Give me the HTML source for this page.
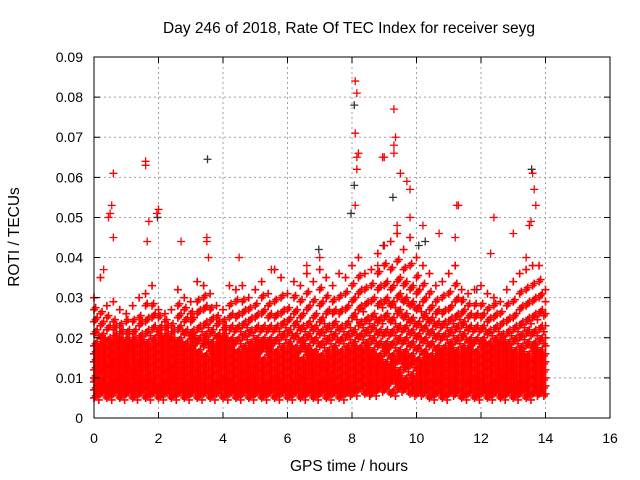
<!DOCTYPE html>
<html><head><meta charset="utf-8"><style>
html,body{margin:0;padding:0;background:#fff;}
svg{display:block;font-family:"Liberation Sans",sans-serif;}
</style></head><body>
<svg id="chart" width="640" height="480" viewBox="0 0 640 480" xmlns="http://www.w3.org/2000/svg">
<rect width="640" height="480" fill="#fff"/>
<text x="349" y="33" font-size="15.5" text-anchor="middle">Day 246 of 2018, Rate Of TEC Index for receiver seyg</text>
<text x="349" y="471" font-size="15.5" text-anchor="middle">GPS time / hours</text>
<text transform="translate(19,237) rotate(-90)" font-size="15.5" text-anchor="middle">ROTI / TECUs</text>
<g id="grid"></g><g id="marks"></g><g id="axes"></g>
</svg>
<script>
const xTicks=[0,2,4,6,8,10,12,14,16];
const yTicks=[0,0.01,0.02,0.03,0.04,0.05,0.06,0.07,0.08,0.09];
const yTickLabels=["0","0.01","0.02","0.03","0.04","0.05","0.06","0.07","0.08","0.09"];
const MILLI=0.001;
const bandHours=[0,0.2,0.4,0.6,0.8,1,1.2,1.4,1.6,1.8,2,2.2,2.4,2.6,2.8,3,3.2,3.4,3.6,3.8,4,4.2,4.4,4.6,4.8,5,5.2,5.4,5.6,5.8,6,6.2,6.4,6.6,6.8,7,7.2,7.4,7.6,7.8,8,8.2,8.4,8.6,8.8,9,9.2,9.4,9.6,9.8,10,10.2,10.4,10.6,10.8,11,11.2,11.4,11.6,11.8,12,12.2,12.4,12.6,12.8,13,13.2,13.4,13.6,13.8,14];
const bandRoti=[
[5,7,9,10,12,14,16,18,21,24,27,30],[6,7,9,11,12,14,16,18,20,23,26,35],[5,7,8,10,12,13,15,17,19,22,25,28],[6,8,9,11,13,14,16,18,20,22,24,29],
[5,7,9,10,12,14,15,17,19,21,23,27],[6,7,9,11,12,14,16,17,19,21,24,26],[5,7,8,10,11,13,15,17,19,21,24,28],[6,8,9,11,13,14,16,18,20,23,25,30],
[5,7,9,10,12,14,16,18,21,24,28,31],[6,7,9,11,13,15,17,19,22,25,28,33],[5,7,8,10,12,14,16,18,20,22,25,27],[6,8,9,11,12,14,16,18,20,22,24,26],
[5,7,9,10,12,13,15,17,19,21,23,27],[6,7,9,11,13,15,17,19,22,25,28,32],[5,7,8,10,12,14,16,18,21,24,27,30],[6,8,9,11,13,15,17,19,21,24,26,29],
[5,7,9,10,12,14,16,19,22,26,29,34],[6,7,9,11,13,15,18,20,23,27,30,33],[5,7,8,10,12,14,16,18,21,24,27,31],[6,8,9,11,13,14,16,18,20,23,25,28],
[5,7,9,10,12,14,16,18,20,22,24,27],[6,7,9,11,13,15,17,19,22,25,28,33],[5,7,8,10,12,14,16,19,22,25,29,32],[6,8,9,11,13,15,17,20,23,26,29,33],
[5,7,9,10,12,14,16,18,21,24,27,30],[6,7,9,11,13,15,17,19,22,25,28,32],[5,7,8,10,12,14,17,19,22,26,30,34],[6,8,9,11,13,15,17,19,22,25,28,31],
[5,7,9,10,12,14,16,19,22,25,29,37],[6,7,9,11,13,15,17,20,23,26,30,35],[5,7,8,10,12,14,16,18,21,24,27,31],[6,8,9,11,13,15,17,20,23,26,30,34],
[5,7,9,10,12,14,17,19,22,25,29,33],[6,7,9,11,13,15,17,20,23,27,31,36],[5,7,8,10,12,14,16,19,22,25,29,34],[6,8,9,11,13,15,18,21,24,28,32,37],
[5,7,9,10,12,14,16,19,22,26,30,35],[6,7,9,11,13,15,17,20,23,26,29,33],[5,7,8,10,12,14,16,19,22,26,30,36],[6,8,9,11,13,15,17,20,23,27,31,35],
[6,8,10,12,14,16,18,21,25,29,33,38],[7,9,11,13,15,17,20,23,27,31,35,40],[6,8,10,12,14,16,18,21,24,28,32,36],[6,8,10,12,14,16,19,22,25,29,33,37],
[7,9,11,13,15,18,21,24,28,32,36,41],[7,9,11,13,16,18,21,25,29,33,38,43],[6,9,11,13,15,18,21,24,28,32,37,44],[7,9,11,14,16,19,22,26,30,34,39,46],
[7,9,12,14,16,19,22,25,29,33,37,42],[6,8,10,13,15,18,21,24,28,32,38,45],[6,8,10,12,14,17,20,23,27,31,35,40],[6,8,10,12,14,16,19,22,25,29,33,38],
[5,7,9,11,13,15,18,21,24,27,31,36],[6,8,9,11,13,15,17,20,23,26,29,33],[5,7,9,11,13,15,17,20,23,26,30,34],[6,8,10,12,14,16,18,21,24,27,31,36],
[6,8,10,12,14,16,19,22,25,29,33,38],[5,7,9,11,13,15,17,20,23,26,29,32],[6,8,9,11,13,15,17,19,22,25,28,31],[5,7,9,10,12,14,16,19,22,25,28,32],
[6,7,9,11,13,15,17,19,22,25,28,33],[5,7,8,10,12,14,16,18,21,24,27,31],[6,8,9,11,13,15,17,19,22,25,28,30],[5,7,9,10,12,14,16,18,20,23,26,29],
[6,7,9,11,12,14,16,18,21,24,28,32],[5,7,8,10,12,14,16,19,22,25,29,34],[6,8,9,11,13,15,17,20,23,27,31,36],[5,7,9,11,13,15,18,21,24,28,32,37],
[6,8,10,12,14,16,18,21,25,29,33,38],[6,8,10,12,14,16,19,22,26,30,34,38],[6,8,10,12,14,16,18,20,23,26,29,32]];
const redOutHours=[0.6,0.55,0.5,0.45,0.6,0.3,1.6,1.6,1.65,1.7,2.0,1.95,2.7,3.5,3.5,3.55,4.5,5.5,8.1,8.15,8.1,8.15,8.2,8.15,8.1,9.0,8.95,9.3,9.35,9.3,9.3,9.5,9.7,9.8,9.8,9.4,10.2,10.7,11.3,11.25,11.2,12.4,12.3,13.0,13.6,13.65,13.7,13.55,13.5,13.4,7.0,6.6,8.8];
const redOutRoti=[0.061,0.053,0.051,0.050,0.045,0.037,0.064,0.063,0.044,0.049,0.052,0.051,0.044,0.045,0.044,0.040,0.040,0.037,0.084,0.081,0.071,0.065,0.066,0.062,0.053,0.065,0.065,0.077,0.070,0.068,0.066,0.061,0.059,0.057,0.050,0.048,0.048,0.046,0.053,0.053,0.045,0.050,0.041,0.046,0.061,0.057,0.053,0.049,0.048,0.040,0.040,0.038,0.038];
const blackHours=[3.55,8.1,8.1,8.0,9.3,2.0,13.6,7.0,9.0,10.3,10.1,11.9];
const blackRoti=[0.0645,0.078,0.058,0.051,0.055,0.050,0.062,0.042,0.043,0.044,0.043,0.032];

const L=94,R=610,T=57,B=418;
const xs=v=>L+(v-0)/(16-0)*(R-L);
const ys=v=>B-(v-0)/(0.09-0)*(B-T);
const NS="http://www.w3.org/2000/svg";
function mk(tag,parent){const e=document.createElementNS(NS,tag);parent.appendChild(e);return e;}
const grid=document.getElementById('grid'),marks=document.getElementById('marks'),axes=document.getElementById('axes');
xTicks.forEach((t,i)=>{
  if(i>0&&i<xTicks.length-1){const g=mk('line',grid);
  
  
  g.setAttribute('x1',xs(t));g.setAttribute('x2',xs(t));g.setAttribute('y1',T);g.setAttribute('y2',B);g.setAttribute('stroke','#a0a0a0');g.setAttribute('stroke-dasharray','2,3');}
  const tk=mk('path',axes);
  
  
  tk.setAttribute('d',`M${xs(t)},${B}v-6M${xs(t)},${T}v6`);tk.setAttribute('stroke','#000');
  const tx=mk('text',axes);
  
  
  tx.setAttribute('x',xs(t));tx.setAttribute('y',443);tx.setAttribute('font-size','14');tx.setAttribute('text-anchor','middle');tx.textContent=String(t);
});
yTicks.forEach((t,i)=>{
  if(i>0&&i<yTicks.length-1){const g=mk('line',grid);
  
  
  g.setAttribute('x1',L);g.setAttribute('x2',R);g.setAttribute('y1',ys(t));g.setAttribute('y2',ys(t));g.setAttribute('stroke','#a0a0a0');g.setAttribute('stroke-dasharray','2,3');}
  const tk=mk('path',axes);
  
  
  tk.setAttribute('d',`M${L},${ys(t)}h6M${R},${ys(t)}h-6`);tk.setAttribute('stroke','#000');
  const tx=mk('text',axes);
  
  
  tx.setAttribute('x',83);tx.setAttribute('y',ys(t)+5);tx.setAttribute('font-size','14');tx.setAttribute('text-anchor','end');tx.textContent=yTickLabels[i];
});
const frame=mk('rect',axes);


frame.setAttribute('x',L);frame.setAttribute('y',T);frame.setAttribute('width',R-L);frame.setAttribute('height',B-T);frame.setAttribute('fill','none');frame.setAttribute('stroke','#000');
function cross(h,v,color,name,sw){
  const p=mk('path',marks);
  
  
  const x=xs(h),y=ys(v);
  p.setAttribute('d',`M${x-4},${y}h8M${x},${y-4}v8`);p.setAttribute('stroke',color);p.setAttribute('stroke-width',sw);
}
blackHours.forEach((h,i)=>cross(h-0.03,blackRoti[i],'#333','black-point',1.3));
const layerShiftH=[0,0.05,0.1,0.15];
const layerShiftV=[0,0.5,1,-0.5];
const layerCount=[12,11,10,9];
layerShiftH.forEach((dh,k)=>{
  bandHours.forEach((h,i)=>{
    if(h+dh>14.01) return;
    bandRoti[i].slice(0,layerCount[k]).forEach(v=>cross(h+dh,(v+layerShiftV[k])*MILLI,'#f00','red-point',1.6));
  });
});
redOutHours.forEach((h,i)=>cross(h,redOutRoti[i],'#f00','red-outlier',1.3));
</script>
</body></html>
